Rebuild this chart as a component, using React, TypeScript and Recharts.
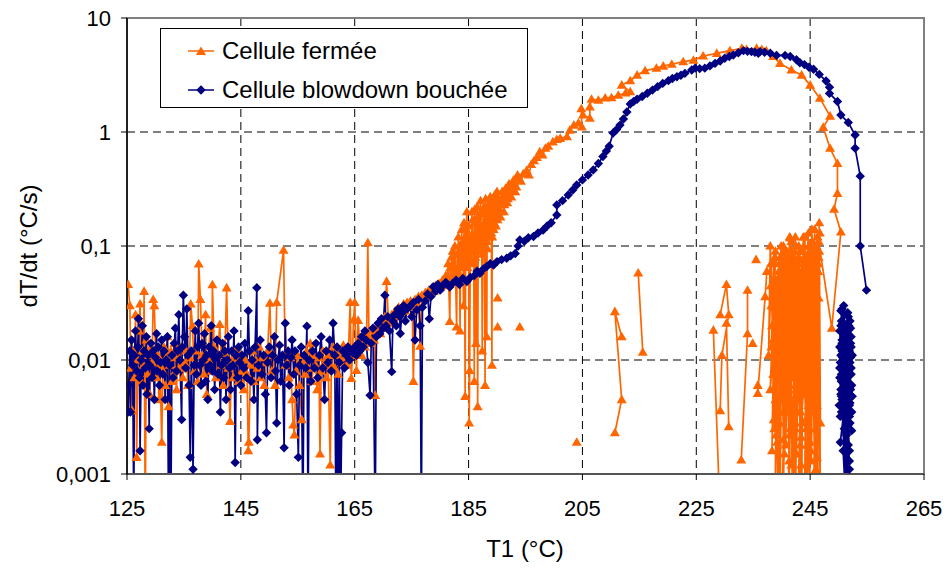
import React from 'react';
import { LineChart, Line, XAxis, YAxis, CartesianGrid, Legend, ReferenceArea } from 'recharts';

type P = [number, number];

const FONT = '"Liberation Sans", Arial, Helvetica, sans-serif';
const ORANGE = '#FF6600';
const NAVY = '#000080';

const xTicks = [125, 145, 165, 185, 205, 225, 245, 265];
const yTicks = [0.001, 0.01, 0.1, 1, 10];
const seriesNames = ['Cellule fermée', 'Cellule blowdown bouchée'];
const xTitle = 'T1 (°C)';
const yTitle = 'dT/dt (°C/s)';

// ---- Cellule fermée (orange) ----
const fermeeNoise: P[] = [
  [125.2,0.046],[125.5,0.03],[125.7,0.0085],[125.9,0.0036],[126.1,0.012],[126.3,0.007],[126.5,0.025],[126.7,0.0014],[126.9,0.01],[127.1,0.018],
  [127.3,0.031],[127.5,0.0065],[127.7,0.012],[127.9,0.009],[128.0,0.04],[128.2,0.0004],[128.4,0.015],[128.6,0.0075],[128.8,0.011],[129.0,0.005],
  [129.2,0.013],[129.4,0.0095],[129.6,0.034],[129.8,0.03],[130.0,0.012],[130.2,0.007],[130.4,0.011],[130.6,0.0045],[130.8,0.009],[131.1,0.0019],
  [131.3,0.008],[131.5,0.013],[131.7,0.006],[131.9,0.0105],[132.1,0.016],[132.3,0.0039],[132.5,0.009],[132.7,0.012],[132.9,0.0065],[133.1,0.0105],
  [133.3,0.014],[133.5,0.008],[133.7,0.0055],[133.9,0.011],[134.2,0.0085],[134.5,0.013],[134.8,0.007],[135.1,0.0095],[135.4,0.012],[135.7,0.006],
  [136.0,0.0105],[136.2,0.031],[136.5,0.02],[136.8,0.008],[137.1,0.012],[137.4,0.0065],[137.6,0.0695],[137.9,0.034],[138.2,0.011],[138.5,0.0075],
  [138.8,0.025],[139.0,0.005],[139.3,0.01],[139.6,0.019],[139.9,0.008],[140.0,0.0457],[140.3,0.013],[140.6,0.007],[140.9,0.011],[141.3,0.0205],
  [141.6,0.009],[141.9,0.006],[142.2,0.0115],[142.5,0.043],[142.8,0.0085],[143.1,0.0029],[143.4,0.01],[143.7,0.007],[144.0,0.012],[144.3,0.0095],
  [144.6,0.0065],[144.9,0.011],[145.2,0.008],[145.5,0.0055],[145.8,0.01],[146.1,0.0075],[146.3,0.0016],[146.4,0.0019],[146.7,0.009],[147.0,0.012],
  [147.3,0.0065],[147.6,0.01],[147.9,0.0085],[148.2,0.013],[148.5,0.007],[148.8,0.0105],[149.1,0.006],[149.4,0.0095],[149.7,0.012],[150.1,0.0315],
  [150.4,0.008],[150.7,0.011],[151.0,0.006],[151.3,0.032],[152.5,0.092],[152.8,0.009],[153.1,0.012],[153.4,0.007],[153.7,0.0105],[154.0,0.0045],
  [154.2,0.0027],[154.4,0.0022],[154.7,0.008],[155.0,0.011],[155.3,0.006],[155.7,0.003],[156.0,0.0095],[156.3,0.0075],[156.6,0.012],[156.9,0.0085],
  [157.2,0.014],[157.5,0.0065],[157.8,0.011],[158.1,0.009],[158.4,0.0055],[158.7,0.0105],[158.9,0.0015],[159.1,0.008],[159.4,0.012],[159.7,0.0095],
  [160.0,0.007],[160.3,0.011],[160.7,0.0012],[160.9,0.009],[161.2,0.013],[161.5,0.0085],[161.8,0.011],[162.1,0.0075],[162.4,0.012],[162.7,0.0095],
  [163.0,0.0135],[163.3,0.0105],[163.6,0.009],[163.9,0.012],[164.2,0.032],[164.4,0.0069],[164.6,0.011],[164.8,0.0225],[165.0,0.032],[165.3,0.0081],
  [165.6,0.0223],[165.9,0.013],[166.2,0.011],[166.5,0.015],[166.8,0.013],[167.1,0.017],[167.3,0.107],[167.5,0.016],[167.8,0.014],[168.1,0.018],
  [168.4,0.015],[168.6,0.0049],[168.9,0.019],[169.2,0.02],[169.5,0.017],[169.8,0.022],[170.1,0.019],[170.3,0.024],[170.6,0.049],[170.9,0.023],
  [171.2,0.021],[171.5,0.025],[171.8,0.023],[172.1,0.027],[172.4,0.024],[172.7,0.029],[173.0,0.026],[173.3,0.028],[173.6,0.031],[173.9,0.027],
  [174.2,0.032],[174.5,0.029],[174.8,0.033],[175.1,0.03],[175.3,0.0065],[175.6,0.034],[175.9,0.031],
];

const fermeeRise: P[] = [
  [176.2,0.036],[176.5,0.0132],[176.8,0.037],[177.1,0.034],[177.4,0.039],[177.7,0.036],[178.0,0.041],[178.3,0.038],[178.6,0.043],[178.9,0.04],
  [179.2,0.045],[179.5,0.042],[179.8,0.047],[180.1,0.044],[180.4,0.05],[180.7,0.047],[181.0,0.055],[181.2,0.045],[181.4,0.07],[181.5,0.05],
  [181.7,0.0218],[181.8,0.065],[181.9,0.048],[182.0,0.08],[182.1,0.055],[182.2,0.09],[182.3,0.05],[182.5,0.065],[182.6,0.1],[182.7,0.058],
  [182.9,0.0195],[183.0,0.085],[183.1,0.06],[183.2,0.12],[183.3,0.056],[183.4,0.1],[183.5,0.018],[183.6,0.09],[183.7,0.065],[183.8,0.14],
  [183.9,0.07],[184.0,0.11],[184.1,0.03],[184.2,0.16],[184.3,0.075],[184.4,0.0048],[184.5,0.12],[184.6,0.14],[184.7,0.2],[184.8,0.065],
  [184.9,0.08],[185.0,0.15],[185.1,0.0028],[185.2,0.0081],[185.3,0.12],[185.4,0.07],[185.5,0.09],[185.6,0.2],[185.7,0.17],[185.8,0.075],
  [185.9,0.1],[186.0,0.0065],[186.05,0.16],[186.1,0.21],[186.2,0.08],[186.3,0.014],[186.4,0.13],[186.5,0.22],[186.6,0.0039],[186.7,0.18],
  [186.8,0.09],[186.9,0.11],[187.0,0.19],[187.1,0.25],[187.2,0.1],[187.3,0.15],[187.4,0.012],[187.5,0.085],[187.6,0.2],[187.7,0.22],
  [187.8,0.1],[187.9,0.006],[187.95,0.12],[188.0,0.26],[188.1,0.17],[188.2,0.016],[188.25,0.11],[188.3,0.095],[188.4,0.2],[188.5,0.23],
  [188.6,0.12],[188.7,0.14],[188.8,0.27],[188.9,0.19],[189.0,0.13],[189.1,0.009],[189.15,0.12],[189.2,0.24],[189.3,0.21],[189.4,0.14],
  [189.5,0.16],[189.6,0.28],[189.7,0.25],[189.8,0.15],[189.9,0.2],[190.0,0.3],[190.1,0.17],[190.3,0.26],[190.4,0.24],[190.6,0.18],
  [190.7,0.2],[190.9,0.3],[191.0,0.27],[191.2,0.2],[191.3,0.23],[191.5,0.32],[191.6,0.3],[191.8,0.24],[191.9,0.26],[192.1,0.35],
  [192.3,0.33],[192.5,0.27],[192.7,0.3],[192.9,0.38],[193.0,0.36],[193.2,0.3],[193.4,0.33],[193.6,0.42],[193.8,0.4],[194.2,0.37],
  [194.6,0.43],[195.2,0.46],[195.6,0.42],[196.0,0.52],[196.5,0.56],[197.0,0.6],[197.5,0.67],[198.0,0.63],[198.5,0.72],[199.0,0.75],
  [199.8,0.82],[200.5,0.86],[201.1,0.88],[202.3,0.91],[202.8,1.04],[203.5,1.15],[204.3,1.2],[204.9,1.11],[204.8,1.6],[205.1,1.41],
  [206.3,1.32],[206.3,1.66],[206.6,1.94],[207.8,1.9],[209.0,1.99],[210.1,2.0],[211.3,2.1],[212.6,2.2],[213.4,2.26],[211.9,2.58],
  [213.4,2.82],[214.6,3.16],[216.0,3.45],[218.0,3.63],[219.2,3.79],[220.7,3.93],[222.7,4.14],[224.5,4.27],[226.2,4.64],[228.6,4.9],
  [230.9,5.17],[233.0,5.42],[233.8,5.3],[235.6,5.42],[236.5,5.3],[237.3,5.17],[238.5,4.6],[239.7,4.0],[241.7,3.5],[243.5,3.16],
  [245.0,2.58],[246.7,1.98],[248.5,1.38],[247.3,1.1],[248.5,0.72],[249.8,0.53],[249.8,0.29],[249.2,0.21],[250.4,0.133],[248.8,0.019],
];

const fermeeCluster: P[] = [
  [246.5,0.11],[246.2,0.004],[246.7,0.13],[245.9,0.0025],[246.4,0.07],[245.6,0.0004],[246.0,0.05],[245.3,0.009],[245.8,0.14],[245.1,0.0016],
  [245.5,0.09],[244.8,0.0004],[245.2,0.06],[244.5,0.012],[244.9,0.1],[244.2,0.003],[244.7,0.045],[244.0,0.0004],[244.4,0.08],[243.7,0.006],
  [244.1,0.12],[243.4,0.0021],[243.9,0.035],[243.2,0.0004],[243.6,0.075],[242.9,0.008],[243.3,0.05],[242.6,0.0015],[243.0,0.1],[242.3,0.0045],
  [242.8,0.03],[242.0,0.0004],[242.5,0.065],[241.8,0.007],[242.2,0.09],[241.5,0.0025],[241.9,0.04],[241.2,0.0004],[241.7,0.11],[241.0,0.011],
  [241.4,0.055],[240.7,0.0018],[241.1,0.085],[240.4,0.005],[240.9,0.03],[240.2,0.0004],[240.6,0.07],[239.9,0.009],[240.3,0.1],[239.6,0.0028],
  [240.0,0.045],[239.3,0.014],[239.8,0.08],[239.1,0.0035],[239.5,0.06],[238.8,0.0004],[239.2,0.025],[238.5,0.0075],[238.9,0.09],[238.3,0.0016],
  [238.7,0.04],[238.2,0.013],[238.6,0.075],[239.0,0.0022],[239.4,0.05],[239.7,0.0004],[240.1,0.085],[240.5,0.006],[240.8,0.04],[241.3,0.0013],
  [241.6,0.07],[242.1,0.0095],[242.4,0.12],[242.7,0.0035],[243.1,0.06],[243.5,0.0004],[243.8,0.09],[244.3,0.0055],[244.6,0.035],[245.0,0.0019],
  [245.4,0.075],[245.7,0.0075],[246.1,0.1],[246.3,0.0004],[246.6,0.16],[246.8,0.0028],[246.5,0.035],[246.2,0.0014],[245.9,0.09],[245.6,0.005],
  [245.2,0.045],[244.9,0.0004],[244.5,0.065],[244.1,0.0085],[243.8,0.03],[243.4,0.0012],[243.0,0.08],[242.6,0.006],[242.3,0.045],[241.9,0.0004],
  [241.5,0.118],[241.1,0.004],[240.7,0.06],[240.3,0.002],[239.9,0.035],[239.5,0.0065],[239.1,0.05],[238.7,0.0025],[238.4,0.03],[238.0,0.1],
  [237.7,0.011],[238.1,0.045],[238.9,0.0045],[239.8,0.02],[240.6,0.0035],[241.6,0.025],[242.5,0.0055],[243.4,0.04],[244.3,0.0025],[245.3,0.14],
  [246.0,0.0011],[246.4,0.06],[246.8,0.0004],
];

const fermeeCluster2: P[] = [
  [246.6,0.09],[245.0,0.0035],[246.3,0.12],[244.6,0.0018],[245.8,0.065],[244.2,0.0004],[245.4,0.11],[243.9,0.005],[245.0,0.08],[243.5,0.0028],
  [244.7,0.13],[243.2,0.0065],[244.2,0.05],[242.8,0.0004],[243.9,0.1],[242.4,0.0025],[243.5,0.06],[242.1,0.0045],[243.2,0.09],[241.7,0.0012],
  [242.8,0.07],[241.4,0.006],[242.5,0.1],[241.0,0.0004],[242.1,0.05],[240.7,0.008],[241.8,0.085],[240.3,0.0035],[241.4,0.12],[240.0,0.0004],
  [241.0,0.065],[239.6,0.0045],[240.6,0.09],[239.2,0.0019],[240.2,0.055],[238.9,0.012],[239.9,0.1],[238.6,0.003],[239.6,0.07],[238.3,0.02],
  [239.2,0.045],[238.0,0.0055],[238.8,0.08],[238.2,0.03],[239.0,0.009],[239.8,0.045],[240.5,0.0015],[241.2,0.03],[241.9,0.0085],[242.6,0.05],
  [243.3,0.0018],[244.0,0.07],[244.7,0.004],[245.3,0.05],[245.9,0.0004],[246.5,0.08],[246.1,0.0075],[245.7,0.1],[245.2,0.0013],[244.8,0.06],
  [244.3,0.0095],[243.8,0.12],[243.3,0.0035],[242.9,0.055],[242.4,0.0004],[241.9,0.075],[241.4,0.0022],[240.9,0.09],[240.4,0.0095],[239.9,0.06],
  [239.4,0.0004],[238.9,0.05],[238.5,0.015],[238.1,0.07],
];

const fermeeBits: P[][] = [
  [[190.1,0.035]],
  [[190.1,0.0195]],
  [[194.0,0.0195]],
  [[204.0,0.0019]],
  [[211.9,0.016],[210.7,0.0266],[211.9,0.0045],[210.7,0.0023]],
  [[214.8,0.058],[215.6,0.0117]],
  [[228.0,0.0183],[229.2,0.0004]],
  [[229.2,0.025],[230.3,0.046],[230.7,0.025],[229.5,0.011],[229.2,0.0036]],
  [[230.3,0.021],[230.7,0.0026]],
  [[234.0,0.041],[234.0,0.017],[232.9,0.00133]],
  [[234.9,0.014]],
  [[235.5,0.076]],
  [[235.8,0.006],[235.8,0.0051],[237.1,0.036],[237.4,0.06]],
];

// ---- Cellule blowdown bouchée (navy) ----
const navyNoise: P[] = [
  [125.2,0.0035],[125.3,0.006],[125.5,0.012],[125.6,0.0035],[125.8,0.015],[126.0,0.009],[126.2,0.0004],[126.3,0.011],[126.5,0.018],[126.7,0.008],
  [126.9,0.013],[127.0,0.023],[127.2,0.007],[127.3,0.0016],[127.5,0.01],[127.7,0.02],[127.8,0.006],[128.0,0.012],[128.2,0.0085],[128.4,0.016],
  [128.5,0.005],[128.7,0.011],[128.9,0.0025],[129.0,0.009],[129.2,0.014],[129.4,0.007],[129.6,0.012],[129.8,0.0045],[130.0,0.0105],[130.2,0.017],
  [130.3,0.008],[130.5,0.013],[130.7,0.006],[130.9,0.0095],[131.1,0.015],[131.3,0.0075],[131.5,0.012],[131.7,0.0045],[131.9,0.01],[132.1,0.016],
  [132.3,0.0004],[132.5,0.009],[132.7,0.0004],[132.9,0.011],[133.1,0.007],[133.3,0.014],[133.5,0.019],[133.7,0.008],[133.9,0.012],[134.1,0.025],
  [134.3,0.01],[134.6,0.003],[134.7,0.013],[134.9,0.037],[135.1,0.016],[135.3,0.0085],[135.5,0.028],[135.7,0.011],[135.9,0.006],[136.1,0.0014],
  [136.3,0.012],[136.6,0.0011],[136.8,0.009],[137.0,0.018],[137.2,0.0075],[137.4,0.013],[137.6,0.021],[137.8,0.009],[138.0,0.006],[138.2,0.014],
  [138.4,0.01],[138.6,0.017],[138.8,0.0065],[139.0,0.011],[139.2,0.0045],[139.4,0.013],[139.6,0.009],[139.8,0.02],[140.0,0.008],[140.2,0.012],
  [140.4,0.0055],[140.6,0.0105],[140.8,0.015],[141.0,0.0075],[141.2,0.011],[141.4,0.0035],[141.6,0.009],[141.8,0.014],[142.0,0.007],[142.2,0.012],
  [142.4,0.0045],[142.6,0.01],[142.8,0.016],[143.0,0.0085],[143.2,0.0055],[143.4,0.012],[143.6,0.009],[143.8,0.018],[144.0,0.00126],[144.2,0.011],
  [144.4,0.007],[144.6,0.013],[144.8,0.0095],[145.0,0.006],[145.2,0.011],[145.5,0.0085],[145.7,0.014],[146.0,0.007],[146.3,0.027],[146.5,0.012],
  [146.8,0.0065],[147.0,0.01],[147.3,0.0045],[147.5,0.013],[147.8,0.043],[147.9,0.002],[148.1,0.009],[148.4,0.015],[148.7,0.0075],[149.0,0.011],
  [149.3,0.005],[149.5,0.0023],[149.7,0.0095],[150.0,0.013],[150.3,0.007],[150.6,0.011],[150.9,0.016],[151.1,0.008],[151.3,0.0028],[151.5,0.01],
  [151.8,0.0135],[152.0,0.0065],[152.3,0.011],[152.6,0.0017],[152.8,0.021],[153.0,0.009],[153.3,0.012],[153.5,0.006],[153.8,0.0105],[154.0,0.015],
  [154.3,0.0075],[154.5,0.012],[154.8,0.005],[155.1,0.0014],[155.3,0.009],[155.6,0.013],[155.9,0.0004],[156.1,0.011],[156.4,0.0085],[156.6,0.0198],
  [156.8,0.0004],[157.0,0.01],[157.3,0.0065],[157.6,0.012],[157.9,0.0085],[158.2,0.014],[158.5,0.007],[158.8,0.011],[159.1,0.016],[159.4,0.0085],
  [159.7,0.0045],[160.0,0.012],[160.3,0.0095],[160.6,0.015],[160.9,0.008],[161.2,0.021],[161.5,0.011],[161.7,0.0004],[161.9,0.013],[162.1,0.0004],
  [162.3,0.0095],[162.5,0.0004],[162.7,0.0023],[162.9,0.012],[163.2,0.0085],[163.5,0.011],[163.8,0.013],[164.1,0.01],[164.4,0.012],[164.7,0.0115],
  [165.0,0.013],[165.3,0.011],[165.6,0.014],[165.9,0.012],[166.2,0.016],[166.5,0.013],[166.8,0.018],[167.0,0.015],[167.3,0.0095],[167.7,0.0049],
  [167.9,0.014],[168.2,0.019],[168.6,0.0004],[168.8,0.016],[169.1,0.021],[169.4,0.017],[169.7,0.023],[170.0,0.019],[170.3,0.037],[170.5,0.02],
  [170.8,0.024],[171.1,0.018],[171.5,0.0079],[171.7,0.022],[172.0,0.025],[172.3,0.02],[172.6,0.028],[172.9,0.024],[173.0,0.0171],[173.3,0.026],
  [173.6,0.03],[173.9,0.022],[174.2,0.028],[174.7,0.0296],[175.0,0.024],[175.3,0.032],[175.6,0.015],[175.9,0.0275],[176.2,0.034],[176.5,0.02],
];

const navyRise: P[] = [
  [176.7,0.0004],[176.9,0.029],[177.4,0.033],[177.8,0.038],[178.1,0.023],[178.4,0.036],[178.8,0.044],[179.2,0.04],[179.6,0.046],[180.0,0.041],
  [180.5,0.045],[181.0,0.048],[181.7,0.0437],[182.2,0.047],[182.8,0.05],[183.4,0.046],[184.0,0.052],[184.7,0.0487],[185.3,0.053],[186.0,0.055],
  [186.5,0.06],[187.0,0.0576],[187.6,0.063],[188.2,0.066],[188.8,0.07],[189.4,0.068],[190.0,0.073],[190.8,0.076],[191.7,0.078],[192.4,0.082],
  [193.2,0.086],[193.7,0.1],[194.0,0.113],[194.8,0.11],[195.5,0.118],[196.4,0.121],[197.2,0.13],[198.1,0.138],[198.8,0.15],[199.5,0.16],
  [200.5,0.187],[200.5,0.229],[201.5,0.25],[202.5,0.28],[203.3,0.31],[204.0,0.343],[205.0,0.38],[206.0,0.42],[206.9,0.465],[207.8,0.53],
  [208.6,0.61],[209.2,0.68],[209.7,0.75],[210.4,0.98],[211.0,1.05],[211.6,1.15],[212.2,1.3],[212.8,1.5],[213.4,1.76],[214.0,1.85],
  [214.6,1.94],[215.5,2.05],[216.4,2.19],[217.3,2.33],[218.2,2.5],[219.1,2.67],[220.1,2.82],[220.8,2.95],[221.6,3.05],[222.3,3.15],
  [223.0,3.27],[224.2,3.5],[224.8,3.63],[225.6,3.6],[226.5,3.63],[227.4,3.8],[228.3,4.0],[229.2,4.2],[230.0,4.43],[230.8,4.6],
  [231.5,4.73],[232.4,4.95],[233.3,5.17],[234.0,5.1],[234.7,5.07],[235.3,5.0],[235.9,4.9],[236.2,5.07],[237.0,5.0],[238.0,4.9],
  [239.1,4.7],[240.6,4.7],[241.5,4.6],[242.6,4.3],[243.2,4.05],[244.0,3.9],[244.8,3.7],[245.6,3.55],[246.6,3.2],[247.8,2.8],
  [248.4,2.47],[248.4,2.18],[249.8,1.85],[250.4,1.41],[251.7,1.21],[252.9,0.94],[252.9,0.72],[253.8,0.41],[253.8,0.1],[254.9,0.041],
];

const navyCluster: P[] = [
  [250.6,0.028],[251.5,0.009],[250.9,0.03],[251.9,0.004],[250.4,0.02],[251.6,0.012],[251.0,0.0065],[252.0,0.022],[250.7,0.0105],[251.8,0.0035],
  [251.2,0.018],[250.5,0.0075],[252.1,0.014],[251.0,0.0025],[251.6,0.026],[250.4,0.005],[251.3,0.016],[252.2,0.0085],[250.8,0.012],[251.7,0.0018],
  [251.1,0.0095],[250.5,0.022],[251.9,0.006],[250.9,0.015],[252.0,0.0028],[251.4,0.011],[250.6,0.0045],[251.8,0.02],[250.8,0.008],[251.9,0.0013],
  [251.3,0.0004],[250.9,0.007],[251.6,0.017],[250.5,0.0035],[252.1,0.0105],[251.1,0.0055],[251.7,0.024],[250.7,0.009],[251.4,0.0022],[250.9,0.0004],
  [251.9,0.012],[250.5,0.0065],[251.5,0.004],[251.1,0.019],[252.0,0.0075],[250.8,0.0016],[251.4,0.0004],[251.7,0.01],[250.6,0.014],[251.9,0.0032],
  [251.2,0.0085],[250.5,0.0048],[251.5,0.0004],[251.0,0.0125],[252.1,0.0055],[250.8,0.02],[251.7,0.0027],[251.2,0.0004],[250.9,0.0095],[251.9,0.0016],
  [251.3,0.006],[250.4,0.011],[251.6,0.0004],
  [250.2,0.018],[252.3,0.006],[250.3,0.0095],[252.2,0.016],[250.1,0.004],[252.4,0.011],[250.4,0.027],[252.0,0.0042],[250.2,0.013],[252.3,0.0024],
  [250.5,0.0065],[252.1,0.019],[250.3,0.0032],[252.2,0.0075],[250.6,0.015],[251.9,0.0011],[250.2,0.0085],[252.4,0.0048],[250.7,0.021],[252.0,0.0095],
  [250.3,0.0019],[252.2,0.013],[250.4,0.0055],[251.8,0.0004],[250.6,0.012],[252.3,0.0035],[250.2,0.007],[252.1,0.0004],
];

type Row = { t: number; v: number | null };
function toRows(segments: P[][]): Row[] {
  const out: Row[] = [];
  segments.forEach((seg, i) => {
    if (i > 0) out.push({ t: seg[0][0], v: null });
    seg.forEach(([t, v]) => out.push({ t, v }));
  });
  return out;
}

const fermeeRows = toRows([[...fermeeNoise, ...fermeeRise, ...fermeeCluster, ...fermeeCluster2], ...fermeeBits]);
const navyRows = toRows([[...navyNoise, ...navyRise], navyCluster]);

const triPath = (cx: number, cy: number) => `M${cx},${cy - 5}L${cx + 5},${cy + 3.6}L${cx - 5},${cy + 3.6}Z`;
const diaPath = (cx: number, cy: number) => `M${cx},${cy - 4.7}L${cx + 4.7},${cy}L${cx},${cy + 4.7}L${cx - 4.7},${cy}Z`;

const TriangleDot = (p: any) => {
  const { cx, cy, index, value } = p;
  if (value == null || !Number.isFinite(cx) || !Number.isFinite(cy)) return <g key={'f' + index} />;
  return <path key={'f' + index} d={triPath(cx, cy)} fill={ORANGE} stroke="none" />;
};
const DiamondDot = (p: any) => {
  const { cx, cy, index, value } = p;
  if (value == null || !Number.isFinite(cx) || !Number.isFinite(cy)) return <g key={'n' + index} />;
  return <path key={'n' + index} d={diaPath(cx, cy)} fill={NAVY} stroke="none" />;
};

const fmtY = (v: number) => String(v).replace('.', ',');

const LegendBox = () => (
  <div
    style={{
      position: 'relative',
      width: 368,
      height: 80,
      boxSizing: 'border-box',
      border: '1px solid #000',
      background: '#fff',
      fontFamily: FONT,
      fontSize: 24,
      color: '#000',
    }}
  >
    {seriesNames.map((name, i) => (
      <div
        key={name}
        style={{
          position: 'absolute',
          left: 26,
          top: i === 0 ? 8 : 47,
          height: 28,
          display: 'flex',
          alignItems: 'center',
          whiteSpace: 'nowrap',
        }}
      >
        <svg width={28} height={14} style={{ display: 'block' }}>
          <line x1={1} y1={7} x2={27} y2={7} stroke={i === 0 ? ORANGE : NAVY} strokeWidth={1.5} />
          <path d={i === 0 ? triPath(14, 7.5) : diaPath(14, 7)} fill={i === 0 ? ORANGE : NAVY} />
        </svg>
        <span style={{ marginLeft: 7 }}>{name}</span>
      </div>
    ))}
  </div>
);

export default function App() {
  return (
    <div style={{ position: 'absolute', left: 0, top: 0, width: 946, height: 572, background: '#fff' }}>
      <LineChart width={946} height={572} margin={{ top: 18, right: 22, bottom: 0, left: 0 }}>
        <CartesianGrid stroke="#000" strokeDasharray="8 5" strokeWidth={1} />
        <ReferenceArea
          x1={125}
          x2={265}
          y1={0.001}
          y2={10}
          fill="none"
          stroke="#808080"
          strokeWidth={2}
          ifOverflow="visible"
        />
        <XAxis
          type="number"
          dataKey="t"
          domain={[125, 265]}
          ticks={xTicks}
          allowDataOverflow
          height={98}
          tickSize={6}
          tickMargin={20}
          axisLine={{ stroke: '#555', strokeWidth: 2 }}
          tickLine={{ stroke: '#000' }}
          tick={{ fontSize: 22, fontFamily: FONT, fill: '#000' }}
          label={() => (
            <text x={525} y={557} textAnchor="middle" fontSize={24} fontFamily={FONT} fill="#000">
              {xTitle}
            </text>
          )}
        />
        <YAxis
          type="number"
          scale="log"
          domain={[0.001, 10]}
          ticks={yTicks}
          allowDataOverflow
          width={127}
          tickSize={6}
          tickMargin={10}
          tickFormatter={fmtY}
          axisLine={{ stroke: '#000', strokeWidth: 1.5 }}
          tickLine={{ stroke: '#000' }}
          tick={{ fontSize: 22, fontFamily: FONT, fill: '#000' }}
          label={() => (
            <text
              x={28}
              y={246}
              transform="rotate(-90 28 246)"
              textAnchor="middle"
              dominantBaseline="central"
              fontSize={24}
              fontFamily={FONT}
              fill="#000"
            >
              {yTitle}
            </text>
          )}
        />
        <Legend
          layout="horizontal"
          verticalAlign="middle"
          align="center"
          content={LegendBox}
          wrapperStyle={{ position: 'absolute', left: 160, top: 28, width: 368, height: 80 }}
        />
        <Line
          data={fermeeRows}
          dataKey="v"
          name={seriesNames[0]}
          type="linear"
          stroke={ORANGE}
          strokeWidth={1.7}
          dot={TriangleDot}
          activeDot={false}
          connectNulls={false}
          isAnimationActive={false}
        />
        <Line
          data={navyRows}
          dataKey="v"
          name={seriesNames[1]}
          type="linear"
          stroke={NAVY}
          strokeWidth={1.7}
          dot={DiamondDot}
          activeDot={false}
          connectNulls={false}
          isAnimationActive={false}
        />
      </LineChart>
    </div>
  );
}
